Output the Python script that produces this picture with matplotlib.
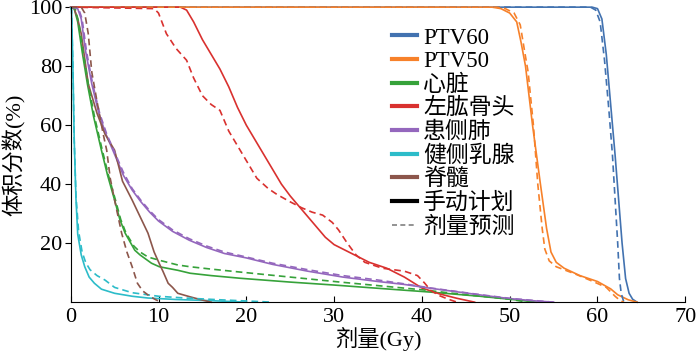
import matplotlib
matplotlib.use('Agg')
import matplotlib.pyplot as plt
from matplotlib.lines import Line2D

plt.rcParams['font.family'] = ['Liberation Serif', 'Noto Sans CJK SC']
plt.rcParams['font.size'] = 16

# DVH curves: dose (Gy) and volume (%)
# solid = manual plan, *_pred = dose prediction
ptv60_dose = [0, 59.4, 60.0, 60.5, 61.0, 61.5, 62.0, 62.4, 62.8, 63.2, 63.6, 64.0, 64.5]
ptv60_vol = [100, 100, 99.5, 96, 84, 67, 50, 35, 20, 8, 3, 1, 0]
ptv60_pred_dose = [0, 59.2, 59.8, 60.3, 60.8, 61.3, 61.7, 62.0, 62.3, 62.5, 62.7, 63.0]
ptv60_pred_vol = [100, 100, 99, 95, 82, 65, 50, 35, 20, 8, 3, 0]

ptv50_dose = [0, 48, 49, 50, 50.8, 51.3, 51.8, 52.6, 53.5, 54.2, 54.7, 55.3, 56.2, 58, 60, 61.5, 62.3, 63.5, 64.5]
ptv50_vol = [100, 100, 99.5, 98, 95, 88, 80, 60, 40, 25, 17, 13.5, 11.5, 9, 7, 4.5, 2.5, 0.8, 0]
ptv50_pred_dose = [0, 48.5, 49.5, 50.5, 51.2, 51.7, 52.1, 52.7, 53.2, 53.7, 54.0, 54.5, 55.3, 57.5, 59.5, 61, 62, 62.6, 63]
ptv50_pred_vol = [100, 100, 99.5, 98, 94, 85, 78, 60, 40, 25, 18, 14, 12, 9.5, 7, 5, 2, 0.5, 0]

heart_dose = [0, 0.4, 0.8, 1.3, 1.9, 2.6, 3.5, 4.2, 5, 5.6, 6.2, 7.3, 7.9, 9.2, 10.1, 12.2, 13.6, 16, 19.3, 25, 30, 35, 41, 46.6, 51, 53]
heart_vol = [100, 99.5, 95, 85, 74, 63, 51.5, 43, 34.6, 28, 23.4, 17.6, 16, 13.2, 12, 10.8, 9.8, 9, 8.1, 6.8, 5.8, 4.7, 3.4, 2, 0.7, 0]
heart_pred_dose = [0, 0.5, 0.9, 1.4, 2.0, 2.7, 3.6, 4.3, 5.1, 5.7, 6.3, 7.2, 7.9, 8.8, 10.1, 12.2, 13.6, 16, 19.3, 25, 30.7, 35, 40, 45, 50, 52]
heart_pred_vol = [100, 99.5, 95, 85, 74, 63, 51.5, 43, 34.6, 28, 23.4, 19, 17, 15.3, 14.2, 12.6, 12, 11.2, 10.2, 8.5, 6.8, 5.6, 4.2, 2.5, 1, 0]

humerus_dose = [0, 12.5, 13.2, 14, 15, 16, 17, 18, 19, 20, 21, 22, 23, 24, 25, 26, 27, 28, 29, 30, 32, 34, 36, 38, 40, 42, 44, 46]
humerus_vol = [100, 100, 99, 95, 89, 84, 79, 73, 66, 60, 55, 50, 45, 40, 36, 32.5, 29, 25.5, 22, 19.5, 16.5, 13.5, 11.5, 8.5, 4.8, 2.8, 1.3, 0]
humerus_pred_dose = [0, 9.5, 10, 10.9, 12, 13.2, 14, 15, 16, 17, 18, 19.3, 20.4, 21.2, 22.5, 23.5, 25, 26.3, 27.5, 28.7, 29.8, 30.5, 31.5, 32.5, 33.5, 35.5, 38, 39.5, 40.3, 41, 42, 43, 44]
humerus_pred_vol = [100, 99.5, 98, 91, 86, 82, 76, 70, 67, 65, 58, 51.5, 46, 42, 38.5, 36.5, 34, 32, 30.5, 29.5, 27, 24.5, 20, 16, 13.5, 11.5, 10.5, 9, 6.5, 4, 2.2, 1, 0]

lung_dose = [0, 0.8, 1.2, 1.7, 2.4, 3.2, 4, 4.8, 6, 7, 8, 9, 10, 11.6, 13.5, 15.5, 17.5, 20, 23, 27, 31, 35, 38, 41, 44, 47, 50, 53, 55]
lung_vol = [100, 99.5, 96, 85, 74, 64, 57, 51.5, 43, 38, 34, 30.5, 27.5, 24, 21, 18.5, 16.5, 15, 12.8, 10.5, 8.5, 7, 6, 4.7, 3.5, 2.3, 1.2, 0.4, 0]
lung_pred_dose = [0, 0.9, 1.3, 1.8, 2.5, 3.3, 4.1, 4.9, 6, 7, 8, 9, 10, 11.6, 13.5, 15.5, 17.5, 20, 23, 27, 31, 35, 38, 41, 44, 47, 50, 53, 55]
lung_pred_vol = [100, 99.5, 96, 85, 74, 64, 57, 51.5, 44, 38.5, 34.5, 31, 28, 24.5, 21.5, 19, 17, 15.3, 13.2, 11, 9, 7.5, 6.2, 4.8, 3.6, 2.4, 1.3, 0.5, 0]

breast_dose = [0, 0.1, 0.25, 0.4, 0.6, 0.8, 1.2, 1.6, 2.1, 2.7, 3.5, 5, 7, 8.8, 12, 16, 20]
breast_vol = [100, 99, 80, 55, 35, 23, 16, 12, 8.5, 6.4, 4.4, 3, 2, 1.4, 0.9, 0.5, 0]
breast_pred_dose = [0, 0.1, 0.25, 0.4, 0.6, 0.9, 1.3, 1.7, 2.2, 3, 3.9, 5, 7, 10, 13, 17, 20, 23]
breast_pred_vol = [100, 99, 80, 55, 36, 24, 17, 13.5, 11, 9, 7.5, 5, 3.2, 2, 1.4, 0.8, 0.4, 0]

cord_dose = [0, 0.4, 0.8, 1.2, 2, 3, 3.9, 5, 5.9, 7, 7.9, 8.8, 9.5, 10.1, 10.5, 11.1, 11.6, 12.2, 13.6, 15, 16]
cord_vol = [100, 99.5, 96, 91, 74, 64, 57, 51.5, 41, 34.6, 29, 23.4, 17, 13, 10.5, 6.4, 5, 3, 1.8, 0.7, 0]
cord_pred_dose = [0, 1.2, 1.6, 2.0, 2.4, 3, 3.7, 4.1, 4.5, 5, 5.8, 6.4, 7, 7.6, 8.2, 9, 9.7, 10.3]
cord_pred_vol = [100, 100, 98, 91, 78, 68, 57, 51.5, 42, 34.6, 23.4, 17, 12, 6.4, 3.8, 2, 0.8, 0]

names = ['PTV60', 'PTV50', '心脏', '左肱骨头', '患侧肺', '健侧乳腺', '脊髓']
colors = ['#4272b0', '#f7812a', '#36a23a', '#d9312f', '#9467bd', '#2cbcc9', '#8c564b']
manual_curves = [(ptv60_dose, ptv60_vol), (ptv50_dose, ptv50_vol), (heart_dose, heart_vol),
                 (humerus_dose, humerus_vol), (lung_dose, lung_vol), (breast_dose, breast_vol),
                 (cord_dose, cord_vol)]
pred_curves = [(ptv60_pred_dose, ptv60_pred_vol), (ptv50_pred_dose, ptv50_pred_vol),
               (heart_pred_dose, heart_pred_vol), (humerus_pred_dose, humerus_pred_vol),
               (lung_pred_dose, lung_pred_vol), (breast_pred_dose, breast_pred_vol),
               (cord_pred_dose, cord_pred_vol)]

fig = plt.figure(figsize=(7, 3.58), dpi=100)
ax = fig.add_axes([0.101, 0.156, 0.878, 0.824])

for (d, v), c in zip(manual_curves, colors):
    ax.plot(d, v, color=c, lw=1.2, clip_on=False)
for (d, v), c in zip(pred_curves, colors):
    ax.plot(d, v, color=c, lw=1.2, ls=(0, (4, 2.5)), clip_on=False)

ax.set_xlim(0, 70)
ax.set_ylim(0, 100)
ax.set_xticks(range(0, 71, 10))
ax.set_yticks([20, 40, 60, 80, 100])
ax.tick_params(axis='x', direction='in', length=4, pad=4)
ax.tick_params(axis='y', direction='out', length=4, pad=2)
ax.spines['top'].set_visible(False)
ax.spines['right'].set_visible(False)
ax.set_xlabel('剂量(Gy)', labelpad=0)
ax.set_ylabel('体积分数(%)', labelpad=2)

handles = [Line2D([], [], color=c, lw=3) for c in colors]
handles.append(Line2D([], [], color='black', lw=3))
handles.append(Line2D([], [], color='gray', lw=1.2, ls=(0, (3, 2))))
labels = names + ['手动计划', '剂量预测']
ax.legend(handles, labels, loc='upper left', bbox_to_anchor=(0.504, 0.97),
          frameon=False, fontsize=16.5, labelspacing=0.1, handlelength=1.1,
          handletextpad=0.27, borderpad=0)

fig.savefig('out.png', dpi=100)
